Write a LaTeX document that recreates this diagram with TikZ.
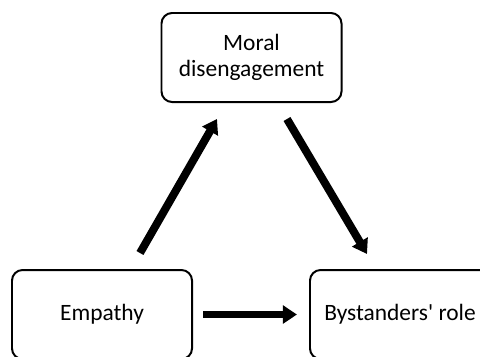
\documentclass[tikz,border=0pt]{standalone}
\usepackage{fontspec}
\setmainfont{Carlito}[Ligatures=TeXOff]
\usepackage{tikz}
\usetikzlibrary{arrows.meta,calc}

\begin{document}
\begin{tikzpicture}[x=0.03cm, y=-0.03cm,
    box/.style={draw, line width=1.7pt, rounded corners=9pt,
      minimum width=5.4cm, minimum height=2.67cm, align=center,
      font=\fontsize{20}{22}\selectfont},
    bigarrow/.style={line width=6.8pt, -{Triangle[length=12pt, width=15pt]}}]
    % Fix the page size
    \clip (0, 0) rectangle (480, 356);

    % Draw the boxes
    \node[box] (moral) at (251.5, 57.5) {Moral\\disengagement};
    \node[box] (empathy) at (102, 314.5) {Empathy};
    \node[box] (role) at (400, 314.5) {Bystanders' role};

    % Draw the arrows
    \draw[bigarrow] ([shift={(38,-16)}]empathy.north) -- ([shift={(-34.5,16)}]moral.south);
    \draw[bigarrow] ([shift={(35.5,16)}]moral.south) -- ([shift={(-33,-15)}]role.north);
    \draw[bigarrow] ([xshift=0.3cm]empathy.east) -- ([xshift=-0.36cm]role.west);
  \end{tikzpicture}
\end{document}
